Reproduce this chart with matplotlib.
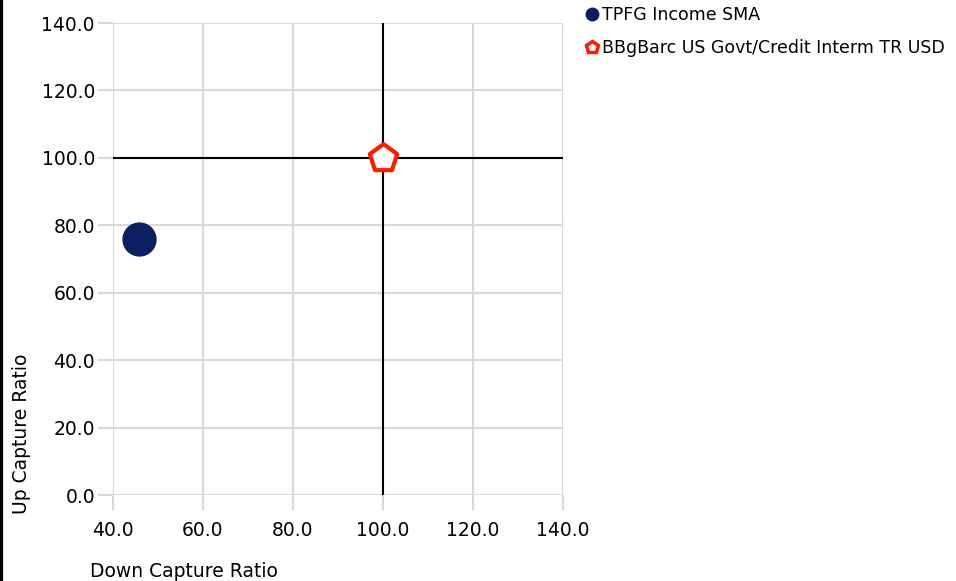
import numpy as np
import matplotlib.pyplot as plt
from matplotlib.lines import Line2D

# data
names = ['TPFG Income SMA', 'BBgBarc US Govt/Credit Interm TR USD']
down_capture = [45.8, 100.0]
up_capture = [76.0, 100.0]
ticks = [0, 20, 40, 60, 80, 100, 120, 140]
xticks = [40, 60, 80, 100, 120, 140]

plt.rcParams['font.family'] = 'DejaVu Sans'
fig = plt.figure(figsize=(9.56, 5.81), dpi=100)
ax = fig.add_axes([0.1182, 0.148, 0.4707, 0.8124])

ax.set_xlim(40, 140)
ax.set_ylim(0, 140)
ax.set_xticks(xticks)
ax.set_yticks(ticks)
ax.set_xticklabels([f'{v:.1f}' for v in xticks])
ax.set_yticklabels([f'{v:.1f}' for v in ticks])
ax.grid(True, color='#d9d9d9', lw=1.5)
ax.set_axisbelow(True)
for s in ax.spines.values():
    s.set_visible(False)
ax.tick_params(colors='#d9d9d9', labelcolor='black', length=11, width=1.5,
               labelsize=13.5, pad=2)
ax.tick_params(axis='x', pad=8)

# reference lines at 100
ax.axvline(100, color='black', lw=1.5, zorder=2)
ax.axhline(100, color='black', lw=1.5, zorder=2)

ax.scatter(down_capture[0], up_capture[0], s=560, color='#0c1f5e', zorder=3,
           label=names[0])
ax.scatter(down_capture[1], up_capture[1], s=430, marker='p', facecolor='white',
           edgecolor='#ff1a00', linewidth=3, zorder=3, label=names[1])

ax.set_xlabel('Down Capture Ratio', fontsize=13.5, ha='left')
ax.xaxis.set_label_coords(-0.05, -0.142)
ax.set_ylabel('Up Capture Ratio', fontsize=13.5, ha='left')
ax.yaxis.set_label_coords(-0.182, -0.04)

h = [Line2D([], [], marker='o', ls='', color='#0c1f5e', markersize=9),
     Line2D([], [], marker='p', ls='', markerfacecolor='white',
            markeredgecolor='#ff1a00', markeredgewidth=2.5, markersize=9)]
fig.legend(h, names, loc='upper left', bbox_to_anchor=(0.5915, 1.016),
           frameon=False, fontsize=12.5, handletextpad=0.0, labelspacing=0.85,
           handlelength=1.2)

# left border
fig.add_artist(Line2D([0.001, 0.001], [0, 1], color='black', lw=3,
                      transform=fig.transFigure))

fig.savefig('out.png', dpi=100)
